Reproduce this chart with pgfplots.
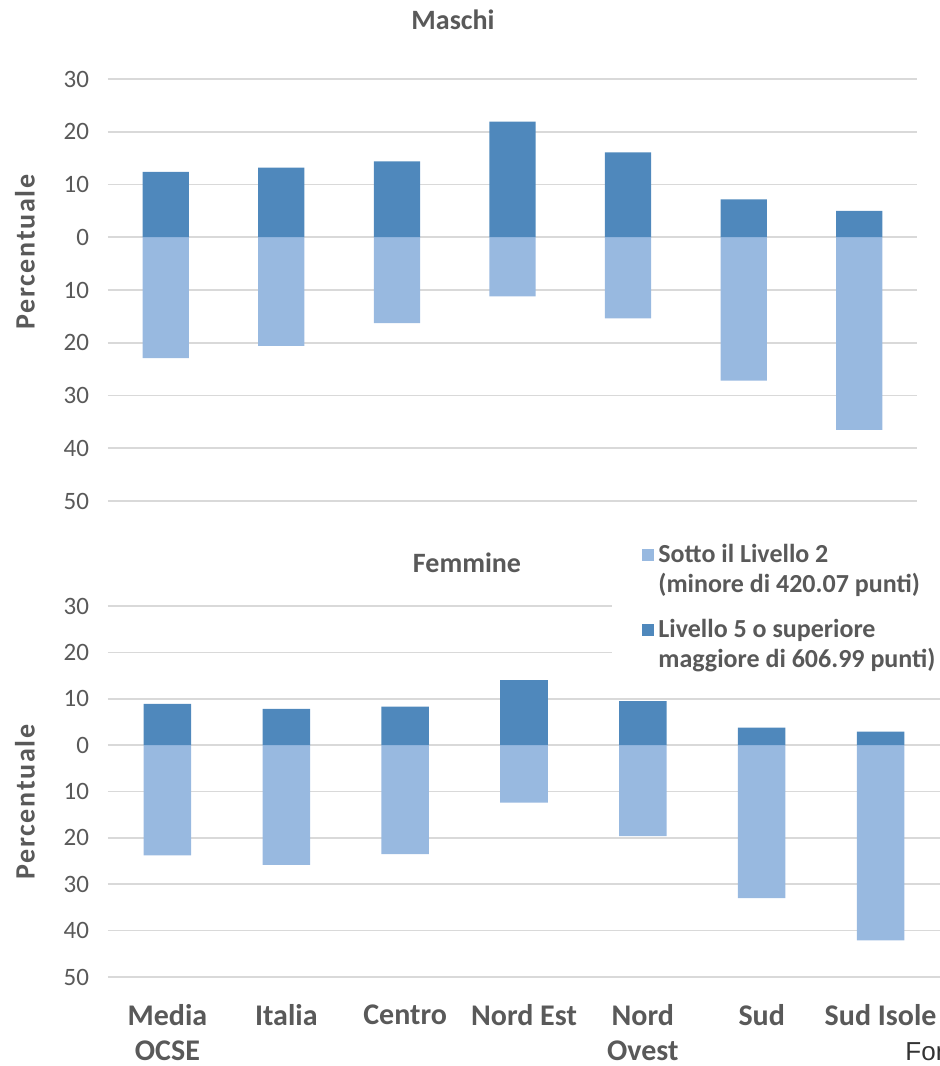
\documentclass[border=0pt]{standalone}
\usepackage{pgfplots}
\pgfplotsset{compat=1.18}
\usepackage{fontspec}
\setmainfont{Carlito}
\newfontfamily\arialf{Liberation Sans}
\newfontfamily\spaced[LetterSpace=6]{Carlito}
\definecolor{darkb}{HTML}{4F88BC}
\definecolor{lightb}{HTML}{98B9E0}
\definecolor{txt}{HTML}{595959}
\definecolor{gridc}{HTML}{D9D9D9}
\pgfplotsset{
  panel/.style={
    scale only axis,
    axis line style={draw=none},
    tick style={draw=none},
    xmin=-0.5, xmax=6.5, ymin=-50, ymax=30,
    ytick={-50,-40,...,30},
    ymajorgrids, grid style={gridc, line width=0.8pt},
    yticklabel={\pgfmathparse{abs(\tick)}\pgfmathprintnumber[assume math mode=true]{\pgfmathresult}},
    yticklabel style={font=\fontsize{12.5}{14}\selectfont, text=txt, xshift=-6pt},
    ybar, bar width=0.4, bar shift=0pt,
    legend image code/.code={\fill[#1] (0pt,4.5pt) rectangle (6pt,10.5pt);},
  }
}
\begin{document}
\begin{tikzpicture}
\path[use as bounding box] (0,0) rectangle (470pt,533pt);
% Maschi
\begin{axis}[panel, at={(54pt,282.5pt)}, anchor=south west,
  width=404.5pt, height=211pt, xtick=\empty]
\addplot[fill=lightb, draw=none] coordinates {(0,-22.9) (1,-20.6) (2,-16.3) (3,-11.2) (4,-15.4) (5,-27.2) (6,-36.5)};
\addplot[fill=darkb, draw=none] coordinates {(0,12.4) (1,13.2) (2,14.4) (3,21.9) (4,16.1) (5,7.2) (6,5.0)};
\end{axis}
% Femmine
\begin{axis}[panel, at={(54pt,44.5pt)}, anchor=south west,
  width=416pt, height=185.5pt,
  xtick={0,...,6},
  xticklabels={{Media\\OCSE},Italia,Centro,{Nord Est},{Nord\\Ovest},Sud,{Sud Isole}},
  xticklabel style={align=center, font=\fontsize{15}{17.5}\selectfont\bfseries, text=txt, inner sep=0pt, yshift=-9.5pt},
  legend style={at={(axis description cs:0.6058,1.20)}, anchor=north west,
    fill=white, draw=none, inner xsep=15pt, inner ysep=4pt, row sep=8pt,
    font=\fontsize{13}{15}\selectfont\bfseries, text=txt,
    cells={anchor=west, align=left}},
  ]
\addplot[fill=lightb, draw=none] coordinates {(0,-23.8) (1,-25.8) (2,-23.5) (3,-12.4) (4,-19.6) (5,-33.0) (6,-42.1)};
\addlegendentry{Sotto il Livello 2\\(minore di 420.07 punti)}
\addplot[fill=darkb, draw=none] coordinates {(0,8.9) (1,7.8) (2,8.3) (3,14.0) (4,9.5) (5,3.8) (6,2.9)};
\addlegendentry{Livello 5 o superiore\\maggiore di 606.99 punti)}
\end{axis}
\node[font=\fontsize{14}{16}\selectfont\bfseries, text=txt] at (226.5pt,523pt) {Maschi};
\node[font=\fontsize{14}{16}\selectfont\bfseries, text=txt] at (233.5pt,251.5pt) {Femmine};
\node[font=\spaced\fontsize{14}{16}\selectfont\bfseries, text=txt, rotate=90] at (12.5pt,407pt) {Percentuale};
\node[font=\spaced\fontsize{14}{16}\selectfont\bfseries, text=txt, rotate=90] at (12.5pt,132pt) {Percentuale};
\node[font=\arialf\fontsize{13}{15}\selectfont, text=black!80, anchor=west, inner sep=0pt] at (452.5pt,7pt) {Fonte: OCSE};
\end{tikzpicture}
\end{document}
